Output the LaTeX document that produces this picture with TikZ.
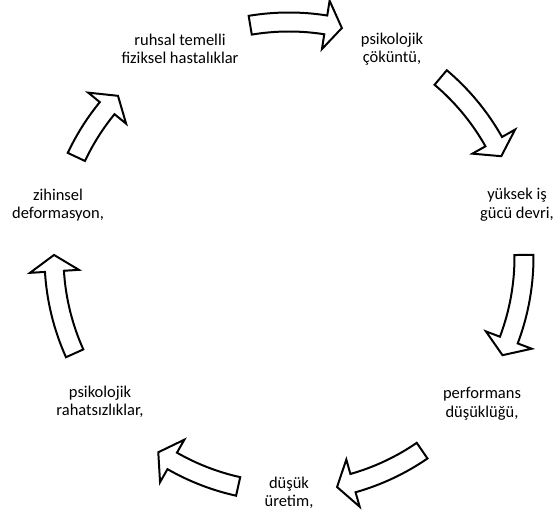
\documentclass[tikz,border=0pt]{standalone}
\usepackage{fontspec}
\setmainfont{Carlito}
\usetikzlibrary{positioning}

\tikzset{
  cyclelabel/.style={font=\fontsize{12.4}{14}\selectfont,align=center,inner sep=0pt},
  cyclearr/.style={draw=black,fill=white,line width=1.5pt}
}
% curved block arrow on the cycle: #1 tail angle, #2 tip angle (clockwise)
\newcommand{\cyclearrow}[2]{%
  \pgfmathsetmacro{\hb}{#2+4}
  \draw[cyclearr] (#1:244.5) arc[start angle=#1,end angle=\hb,radius=244.5]
    -- (\hb:259.5) -- (#2:235) -- (\hb:210.5) -- (\hb:225.5)
    arc[start angle=\hb,end angle=#1,radius=225.5] -- cycle;
}

\begin{document}
\begin{tikzpicture}[x=0.2646mm,y=0.2646mm]
  \useasboundingbox (0,0) rectangle (560,518);
  % the seven steps of the cycle
  \node[cyclelabel] (ruhsal)  at (180,469) {ruhsal temelli\\fiziksel hastalıklar};
  \node[cyclelabel] (cokuntu) at (392,469) {psikolojik\\çöküntü,};
  \node[cyclelabel] (yuksek)  at (517,313) {yüksek iş\\gücü devri,};
  \node[cyclelabel] (perf)    at (482,114) {performans\\düşüklüğü,};
  \node[cyclelabel] (dusuk)   at (289,25)  {düşük\\üretim,};
  \node[cyclelabel] (rahat)   at (100,116) {psikolojik\\rahatsızlıklar,};
  \node[cyclelabel] (zihin)   at (58,313)  {zihinsel\\deformasyon,};
  % arrows around the centre
  \coordinate (c) at (289,261);
  \begin{scope}[shift={(c)}]
    \cyclearrow{99.5}{77}
    \cyclearrow{49.8}{25.4}
    \cyclearrow{0.5}{-24.7}
    \cyclearrow{-55.5}{-78.2}
    \cyclearrow{-102.5}{-123.8}
    \cyclearrow{204.2}{179.5}
    \cyclearrow{154.8}{136.7}
  \end{scope}
\end{tikzpicture}
\end{document}
